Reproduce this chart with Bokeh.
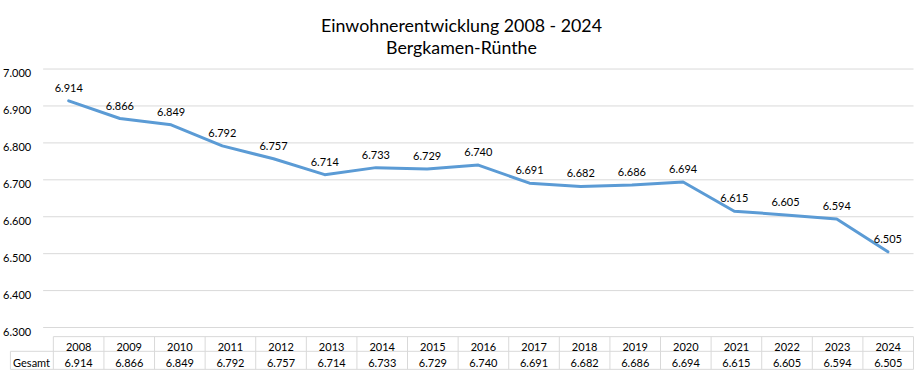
from bokeh.plotting import figure
from bokeh.models import Range1d
from bokeh.core.properties import value
from bokeh.embed import file_html
from bokeh.resources import INLINE

# ---------------- data ----------------
years = ["2008", "2009", "2010", "2011", "2012", "2013", "2014", "2015", "2016",
         "2017", "2018", "2019", "2020", "2021", "2022", "2023", "2024"]
gesamt = [6914, 6866, 6849, 6792, 6757, 6714, 6733, 6729, 6740,
          6691, 6682, 6686, 6694, 6615, 6605, 6594, 6505]
y_ticks = [6300, 6400, 6500, 6600, 6700, 6800, 6900, 7000]
row_label = "Gesamt"
title_lines = ["Einwohnerentwicklung 2008 - 2024", "Bergkamen-Rünthe"]


def de(n):
    return f"{n:,.0f}".replace(",", ".")


# ---------------- layout helpers (reference pixel -> data units) ----------------
W, H = 915, 375
REF_W, REF_H = 923, 383
CAT_PX = (921 - 43) / 17.0
VAL_PX = 264 / 700.0


def px2x(r):
    return (r - 43) / CAT_PX


def py2y(r):
    return 7000 - (r - 70) / VAL_PX


FONT = value("Lato")
GRID = "#d9d9d9"
BLUE = "#5b9bd5"
TXT = "#000000"

p = figure(width=W, height=H, output_backend="svg", toolbar_location=None,
           x_range=Range1d(px2x(0), px2x(REF_W)),
           y_range=Range1d(py2y(REF_H), py2y(0)),
           x_axis_type=None, y_axis_type=None,
           min_border=0, min_border_left=0, min_border_right=0,
           min_border_top=0, min_border_bottom=0)
p.grid.visible = False
p.outline_line_color = None
p.background_fill_color = "white"
p.border_fill_color = "white"

n = len(years)
xc = [i + 0.5 for i in range(n)]

# gridlines
p.segment(x0=[0] * len(y_ticks), x1=[n] * len(y_ticks), y0=y_ticks, y1=y_ticks,
          line_color=GRID, line_width=1)

# y tick labels
p.text(x=[px2x(31)] * len(y_ticks), y=y_ticks, text=[de(t) for t in y_ticks],
       text_font=FONT, text_font_size="11px", text_color=TXT,
       text_align="right", text_baseline="alphabetic", y_offset=4)

# line
p.line(x=xc, y=gesamt, line_color=BLUE, line_width=3,
       line_cap="round", line_join="round")

# data labels
p.text(x=xc, y=gesamt, text=[de(v) for v in gesamt],
       text_font=FONT, text_font_size="11px", text_color=TXT,
       text_align="center", text_baseline="alphabetic", y_offset=-13)

# title
p.text(x=[px2x(465)] * 2, y=[py2y(25), py2y(47.5)], text=title_lines,
       text_font=FONT, text_font_size="17.8px", text_color=TXT,
       text_align="center", text_baseline="alphabetic")

# ---------------- data table ----------------
t_left, t_right = 53.3, 921.0
col_w = (t_right - t_left) / n
r_top, r_mid, r_bot = 343.3, 358.3, 376.7
g_left = 10.0

bx = [px2x(t_left + k * col_w) for k in range(n + 1)]
p.segment(x0=bx, x1=bx, y0=[py2y(r_top)] * (n + 1), y1=[py2y(r_bot)] * (n + 1),
          line_color=GRID, line_width=1)
p.segment(x0=[px2x(g_left)], x1=[px2x(g_left)], y0=[py2y(r_mid)], y1=[py2y(r_bot)],
          line_color=GRID, line_width=1)
p.segment(x0=[px2x(t_left), px2x(g_left), px2x(g_left)],
          x1=[px2x(t_right)] * 3,
          y0=[py2y(r_top), py2y(r_mid), py2y(r_bot)],
          y1=[py2y(r_top), py2y(r_mid), py2y(r_bot)],
          line_color=GRID, line_width=1)

tc = [px2x(t_left + (k + 0.5) * col_w) for k in range(n)]
p.text(x=tc, y=[py2y(353.5)] * n, text=years,
       text_font=FONT, text_font_size="11px", text_color=TXT,
       text_align="center", text_baseline="alphabetic")
p.text(x=tc, y=[py2y(370)] * n, text=[de(v) for v in gesamt],
       text_font=FONT, text_font_size="11px", text_color=TXT,
       text_align="center", text_baseline="alphabetic")
p.text(x=[px2x(12.7)], y=[py2y(370)], text=[row_label],
       text_font=FONT, text_font_size="11px", text_color=TXT,
       text_align="left", text_baseline="alphabetic")

open("out.html", "w").write(file_html(p, INLINE))
